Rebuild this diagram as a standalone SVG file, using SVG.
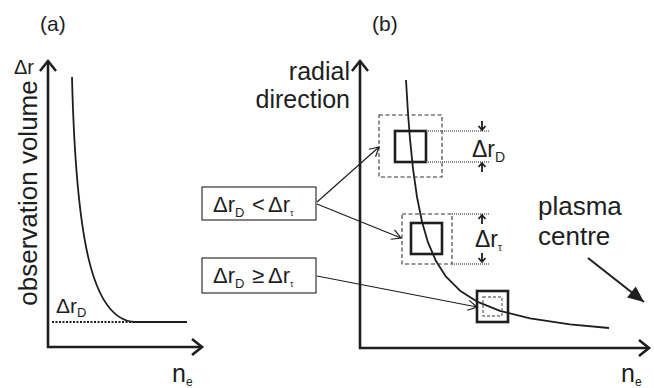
<svg xmlns="http://www.w3.org/2000/svg" width="654" height="388" viewBox="0 0 654 388">
<defs>
<style>
text{font-family:"Liberation Sans",Arial,sans-serif;fill:#1e1e1e}
.axis{stroke:#1e1e1e;stroke-width:2.6;fill:none}
.curve{stroke:#1e1e1e;stroke-width:1.8;fill:none}
.conn{stroke:#1e1e1e;stroke-width:1.2;fill:none}
.solid{stroke:#1e1e1e;stroke-width:2.6;fill:none}
.dash{stroke:#333;stroke-width:1.1;fill:none;stroke-dasharray:4 2.5}
.gdash{stroke:#777;stroke-width:1.4;fill:none;stroke-dasharray:3 2}
.dot{stroke:#666;stroke-width:1.6;fill:none;stroke-dasharray:1 1}
.lbl{fill:#fff;stroke:#333;stroke-width:1.2}
.sm{stroke:#1e1e1e;stroke-width:1.8;fill:none}
</style>
<marker id="ax" markerUnits="userSpaceOnUse" markerWidth="24" markerHeight="24" viewBox="-14 -12 16 24" refX="0" refY="0" orient="auto">
<path d="M-10,-8 L0,0 L-10,8" fill="none" stroke="#1e1e1e" stroke-width="2.6"/>
</marker>
<marker id="op" markerUnits="userSpaceOnUse" markerWidth="16" markerHeight="16" viewBox="-12 -8 14 16" refX="0" refY="0" orient="auto">
<path d="M-9,-5 L0,0 L-9,5" fill="none" stroke="#1e1e1e" stroke-width="1.2"/>
</marker>
<marker id="fl" markerUnits="userSpaceOnUse" markerWidth="20" markerHeight="20" viewBox="-18 -10 20 20" refX="0" refY="0" orient="auto">
<path d="M-16,-7 L0,0 L-16,7 Z" fill="#1e1e1e"/>
</marker>
</defs>

<g id="panel-a">
<text x="40" y="31" font-size="21">(a)</text>
<text x="14" y="74" font-size="20">Δr</text>
<text transform="translate(37,193) rotate(-90)" font-size="26" text-anchor="middle">observation volume</text>
<line class="axis" x1="48" y1="348" x2="48" y2="61" marker-end="url(#ax)"/>
<line class="axis" x1="47" y1="347" x2="202" y2="347" marker-end="url(#ax)"/>
<path class="curve" d="M72,77 C76,240 92,320 135,322 L187,322"/>
<line x1="52" y1="322" x2="160" y2="322" stroke="#1e1e1e" stroke-width="2" stroke-dasharray="2 1.5"/>
<text x="56" y="313" font-size="21">Δr<tspan font-size="13" dy="4">D</tspan></text>
<text x="172" y="382" font-size="25">n<tspan font-size="12" dy="4">e</tspan></text>
</g>

<g id="panel-b">
<text x="372" y="31" font-size="21">(b)</text>
<text x="350" y="80" font-size="25" text-anchor="end">radial</text>
<text x="350" y="108" font-size="25" text-anchor="end">direction</text>
<line class="axis" x1="360" y1="349" x2="360" y2="61" marker-end="url(#ax)"/>
<line class="axis" x1="359" y1="348" x2="649" y2="348" marker-end="url(#ax)"/>
<path class="curve" d="M406,80 L408,113.3 L410,139.2 L413,168.7 L417,197 L422,221.8 L428,242.4 L436,261.1 L446,276.7 L460,290.7 L477,301.6 L500,310.9 L530,318.3 L570,324.3 L609,328" stroke-linejoin="round"/>
<text x="538" y="215" font-size="26">plasma</text>
<text x="538" y="245" font-size="26">centre</text>
<line x1="588" y1="258" x2="644" y2="302" stroke="#1e1e1e" stroke-width="2" marker-end="url(#fl)"/>
<text x="621" y="382" font-size="25">n<tspan font-size="12" dy="4">e</tspan></text>
</g>

<g id="volume-upper">
<rect class="dash" x="379" y="115" width="63" height="62"/>
<rect class="solid" x="395" y="131" width="31" height="31"/>
<line class="dot" x1="426" y1="131" x2="489" y2="131"/>
<line class="dot" x1="426" y1="162" x2="489" y2="162"/>
<path class="sm" d="M482,121 L482,130 M478.5,126 L482,130 L485.5,126"/>
<path class="sm" d="M482,172 L482,163 M478.5,167 L482,163 L485.5,167"/>
<text x="472" y="157" font-size="23">Δr<tspan font-size="14" dy="5">D</tspan></text>
</g>

<g id="volume-middle">
<rect class="dash" x="402" y="214" width="50" height="50"/>
<rect class="solid" x="411" y="223" width="31" height="31"/>
<line class="dot" x1="452" y1="214" x2="489" y2="214"/>
<line class="dot" x1="452" y1="264" x2="489" y2="264"/>
<path class="sm" d="M482,224 L482,215 M478.5,219 L482,215 L485.5,219"/>
<path class="sm" d="M482,253 L482,262 M478.5,258 L482,262 L485.5,258"/>
<text x="475" y="247" font-size="23">Δr<tspan font-size="10" dy="4">τ</tspan></text>
</g>

<g id="volume-lower">
<rect class="solid" x="477" y="291" width="31" height="31"/>
<rect class="gdash" x="483" y="297" width="19" height="19"/>
</g>

<g id="label-less">
<rect class="lbl" x="202" y="187" width="114" height="33"/>
<text x="213" y="212" font-size="22">Δr<tspan font-size="13" dy="5">D</tspan><tspan dy="-5" x="252">&lt;</tspan><tspan x="268">Δr</tspan><tspan font-size="9" dy="4">τ</tspan></text>
</g>

<g id="label-geq">
<rect class="lbl" x="202" y="258" width="114" height="35"/>
<text x="213" y="283" font-size="22">Δr<tspan font-size="13" dy="5">D</tspan><tspan dy="-5" x="252">≥</tspan><tspan x="268">Δr</tspan><tspan font-size="9" dy="4">τ</tspan></text>
</g>

<g id="connectors">
<line class="conn" x1="317" y1="202" x2="379" y2="147" marker-end="url(#op)"/>
<line class="conn" x1="317" y1="204" x2="401" y2="238" marker-end="url(#op)"/>
<line class="conn" x1="317" y1="276" x2="477" y2="307" marker-end="url(#op)"/>
</g>
</svg>
